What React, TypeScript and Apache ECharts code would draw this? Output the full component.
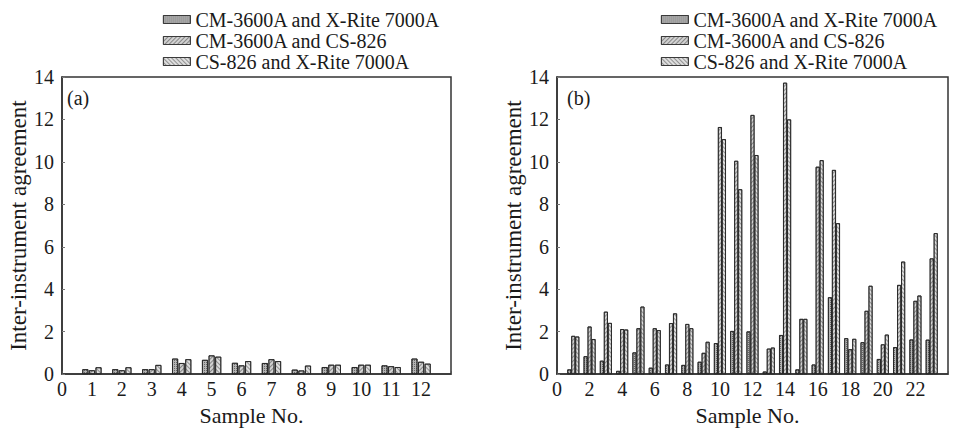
import React, { useEffect, useRef } from "react";
import * as echarts from "echarts";

const seriesNames = [
  "CM-3600A and X-Rite 7000A",
  "CM-3600A and CS-826",
  "CS-826 and X-Rite 7000A",
];

const samplesA = [1, 2, 3, 4, 5, 6, 7, 8, 9, 10, 11, 12];
const a1 = [0.23, 0.23, 0.23, 0.73, 0.67, 0.53, 0.52, 0.21, 0.33, 0.33, 0.41, 0.73];
const a2 = [0.18, 0.18, 0.23, 0.52, 0.88, 0.41, 0.7, 0.17, 0.44, 0.44, 0.37, 0.58];
const a3 = [0.32, 0.32, 0.43, 0.7, 0.82, 0.61, 0.61, 0.4, 0.44, 0.44, 0.33, 0.49];

const samplesB = [1, 2, 3, 4, 5, 6, 7, 8, 9, 10, 11, 12, 13, 14, 15, 16, 17, 18, 19, 20, 21, 22, 23];
const b1 = [0.22, 0.84, 0.63, 0.15, 1.02, 0.3, 0.45, 0.43, 0.58, 1.46, 2.03, 2.01, 0.12, 1.84, 0.22, 0.45, 3.62, 1.69, 1.5, 0.71, 1.27, 1.63, 1.62];
const b2 = [1.8, 2.24, 2.94, 2.12, 2.16, 2.16, 2.4, 2.36, 1.0, 11.64, 10.05, 12.21, 1.2, 13.73, 2.6, 9.77, 9.62, 1.17, 2.98, 1.4, 4.2, 3.45, 5.45];
const b3 = [1.77, 1.65, 2.41, 2.1, 3.18, 2.07, 2.86, 2.16, 1.52, 11.07, 8.71, 10.32, 1.25, 12.0, 2.6, 10.08, 7.11, 1.66, 4.16, 1.86, 5.3, 3.7, 6.64];

const yTicks = [0, 2, 4, 6, 8, 10, 12, 14];

const FONT = "'Liberation Serif', 'Times New Roman', 'DejaVu Serif', serif";
const TEXT = "#1a1a1a";

const fills = ["#b4b4b4", "#d2d2d2", "#dedede"];
const decals: any[] = [
  { symbol: "rect", symbolSize: 1, dashArrayX: [1, 1], dashArrayY: [1, 1], color: "rgba(40,40,40,0.55)" },
  { symbol: "rect", symbolSize: 1, dashArrayX: [1, 0], dashArrayY: [1, 2], rotation: -Math.PI / 4, color: "rgba(60,60,60,0.5)" },
  { symbol: "rect", symbolSize: 1, dashArrayX: [1, 0], dashArrayY: [1, 2], rotation: Math.PI / 4, color: "rgba(70,70,70,0.5)" },
];

function pairs(xs: number[], ys: number[]) {
  return xs.map((x, i) => [x, ys[i]]);
}

export default function App() {
  const ref = useRef<HTMLDivElement>(null);
  useEffect(() => {
    document.body.style.margin = "0";
    const chart = echarts.init(ref.current!, null, { renderer: "svg" });

    const mkX = (gridIndex: number, max: number, interval: number) => ({
      type: "value",
      gridIndex,
      min: 0,
      max,
      interval,
      name: "Sample No.",
      nameLocation: "middle",
      nameGap: 25,
      nameTextStyle: { fontFamily: FONT, fontSize: 22, color: TEXT, padding: [0, 10, 0, 0] },
      axisLine: { show: true, lineStyle: { color: "#333", width: 1.5 } },
      axisTick: { show: true, inside: true, length: 3, lineStyle: { color: "#555" } },
      splitLine: { show: false },
      axisLabel: {
        fontFamily: FONT,
        fontSize: 20,
        color: TEXT,
        margin: 5,
        formatter: (v: number) => (v === max ? "" : String(v)),
      },
    });
    const mkY = (gridIndex: number) => ({
      type: "value",
      gridIndex,
      min: yTicks[0],
      max: yTicks[yTicks.length - 1],
      interval: 2,
      name: "Inter-instrument agreement",
      nameLocation: "middle",
      nameGap: 32,
      nameTextStyle: { fontFamily: FONT, fontSize: 23, color: TEXT },
      axisLine: { show: true, lineStyle: { color: "#333", width: 1.5 } },
      axisTick: { show: true, inside: true, length: 3, lineStyle: { color: "#777" } },
      splitLine: { show: false },
      axisLabel: { fontFamily: FONT, fontSize: 20, color: TEXT, margin: 8 },
    });

    const mkSeries = (gi: number, xs: number[], vals: number[][], bw: number, gap: string) =>
      vals.map((v, k) => ({
        type: "bar",
        name: seriesNames[k],
        xAxisIndex: gi,
        yAxisIndex: gi,
        data: pairs(xs, v),
        barWidth: bw,
        barGap: gap,
        itemStyle: {
          color: fills[k],
          borderColor: "#222",
          borderWidth: 0.8,
          decal: decals[k],
        },
      }));

    const mkLegend = (left: number) => ({
      orient: "vertical",
      left,
      top: 9,
      padding: 0,
      itemGap: 0,
      itemWidth: 27,
      itemHeight: 8,
      icon: "rect",
      data: seriesNames,
      itemStyle: { borderColor: "#333", borderWidth: 0.8 },
      textStyle: { fontFamily: FONT, fontSize: 20, color: TEXT, lineHeight: 21 },
    });

    chart.setOption({
      animation: false,
      backgroundColor: "#ffffff",
      textStyle: { fontFamily: FONT, color: TEXT },
      grid: [
        { left: 62, top: 77, width: 389, height: 306, show: true, borderColor: "#333", borderWidth: 1.5 },
        { left: 557, top: 77, width: 391, height: 306, show: true, borderColor: "#333", borderWidth: 1.5 },
      ],
      legend: [mkLegend(163), mkLegend(661)],
      xAxis: [mkX(0, 13, 1), mkX(1, 24, 2)],
      yAxis: [mkY(0), mkY(1)],
      series: [
        ...mkSeries(0, samplesA, [a1, a2, a3], 6, "10%"),
        ...mkSeries(1, samplesB, [b1, b2, b3], 4, "0%"),
      ],
      graphic: [
        { type: "text", left: 67, top: 88, style: { text: "(a)", fontFamily: FONT, fontSize: 20, fill: TEXT } },
        { type: "text", left: 567, top: 88, style: { text: "(b)", fontFamily: FONT, fontSize: 20, fill: TEXT } },
      ],
    });
    return () => chart.dispose();
  }, []);
  return <div ref={ref} style={{ width: 957, height: 431 }} />;
}
